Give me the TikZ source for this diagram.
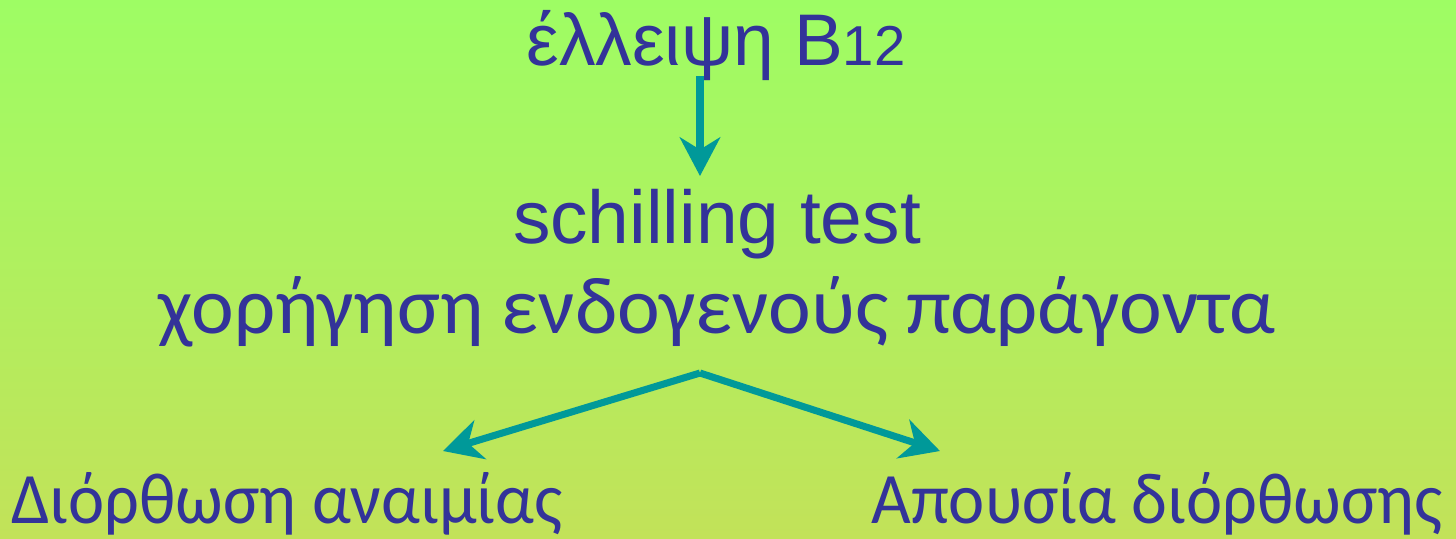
\documentclass[tikz,border=0pt]{standalone}
\usepackage{fontspec}
\setmainfont{Liberation Sans}
\newfontfamily\califont{Carlito}
\usetikzlibrary{arrows.meta,positioning,calc}
\definecolor{ink}{HTML}{333399}
\definecolor{teal}{HTML}{009999}
\definecolor{leaf}{HTML}{9EFD64}
\definecolor{straw}{HTML}{C2E259}

\begin{document}
\begin{tikzpicture}[x=0.01cm, y=-0.01cm,
  word/.style={text=ink, inner sep=0pt, anchor=base, font=\fontsize{20.8}{24}\selectfont},
  greek/.style={word, font=\califont\fontsize{20.6}{24}\selectfont},
  link/.style={->, draw=teal, line width=2pt},
  >={Stealth[length=11pt, width=11.5pt, inset=3.5pt]}]
\shade[top color=leaf, bottom color=straw] (0,0) rectangle (1456,538);
\useasboundingbox (0,0) rectangle (1456,538);
\node[word] (defic) at (716,65) {έλλειψη B{\fontsize{16}{18}\selectfont 12}};
\node[word, font=\fontsize{21.3}{24}\selectfont] (test) at (717,243) {schilling test};
\node[greek, font=\califont\fontsize{23}{26}\selectfont] (factor) at (717,333) {χορήγηση ενδογενούς παράγοντα};
\coordinate (fork) at (700,373);
\draw[link, shorten <=-0.05cm, shorten >=0.12cm] (defic.south -| fork) -- (test.north -| fork);
\foreach \n/\x/\t/\tx in {fix/287/{Διόρθωση αναιμίας}/443, nofix/1157/{Απουσία διόρθωσης}/940}{
  \node[greek] (\n) at (\x,523) {\scalebox{0.945}[1]{\t}};
  \coordinate (\n-tip) at (\tx,451);
  \draw[link] (fork) -- (\n-tip);
}
\end{tikzpicture}
\end{document}
